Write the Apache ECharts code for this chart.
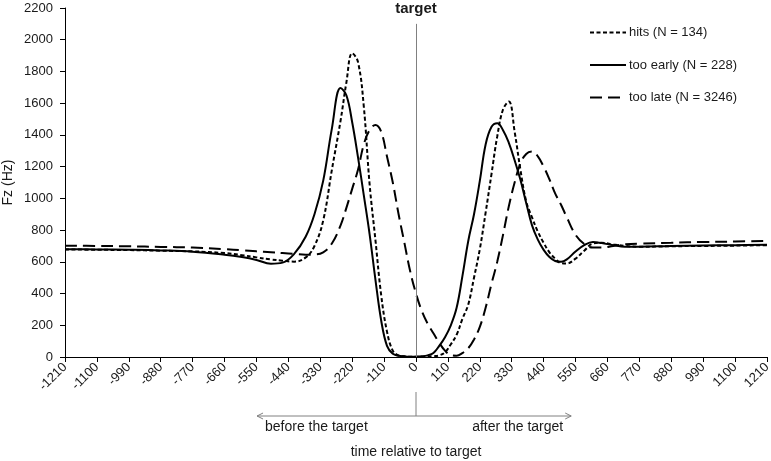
<!DOCTYPE html>
<html>
<head>
<meta charset="utf-8">
<script src="https://cdn.jsdelivr.net/npm/echarts@6/dist/echarts.min.js"></script>
<style>
  html, body { margin: 0; padding: 0; background: #fff; }
  #main { width: 771px; height: 461px; }
</style>
</head>
<body>
<div id="main"></div>
<script>
// time relative to target (ms)
const times = [-1210, -1100, -990, -880, -770, -660, -600, -550, -500, -460, -420, -380, -350, -320, -290, -260, -240, -220, -200, -180, -160, -140, -120, -100, -80, -60, -40, -20, 0, 20, 40, 60, 80, 100, 120, 140, 160, 180, 200, 220, 240, 260, 280, 300, 320, 340, 360, 380, 400, 420, 440, 460, 480, 500, 520, 550, 580, 610, 640, 680, 720, 770, 880, 990, 1100, 1210];

// Fz (Hz) per group
const hits = [678, 676, 674, 670, 666, 655, 642, 628, 615, 607, 601, 628, 700, 860, 1180, 1490, 1730, 1915, 1860, 1580, 1090, 740, 390, 160, 40, 10, 4, 2, 2, 2, 3, 5, 10, 30, 80, 140, 240, 330, 500, 680, 910, 1150, 1390, 1560, 1610, 1420, 1180, 980, 880, 790, 720, 660, 620, 592, 590, 620, 670, 715, 720, 710, 700, 695, 698, 700, 702, 705];
const tooEarly = [680, 678, 676, 672, 664, 645, 630, 612, 588, 595, 650, 760, 900, 1110, 1440, 1695, 1650, 1480, 1260, 1020, 775, 490, 230, 70, 20, 8, 4, 2, 2, 4, 10, 25, 70, 125, 200, 310, 510, 730, 900, 1110, 1340, 1450, 1474, 1430, 1350, 1240, 1117, 970, 830, 740, 675, 630, 605, 600, 615, 665, 705, 725, 718, 705, 695, 695, 700, 703, 705, 707];
const tooLate = [702, 700, 698, 694, 690, 680, 673, 666, 660, 655, 650, 645, 646, 660, 715, 830, 940, 1060, 1180, 1340, 1430, 1462, 1420, 1264, 1100, 900, 720, 540, 400, 290, 210, 150, 90, 40, 12, 8, 25, 55, 110, 190, 310, 460, 600, 770, 950, 1100, 1220, 1280, 1295, 1265, 1200, 1120, 1030, 960, 880, 770, 712, 690, 690, 700, 710, 715, 720, 725, 728, 732];

const seriesNames = ['hits (N = 134)', 'too early (N = 228)', 'too late (N = 3246)'];
const xTicks = { min: -1210, max: 1210, step: 110 };
const yTicks = { min: 0, max: 2200, step: 200 };

const font = "'Liberation Sans', Arial, sans-serif";
const textColor = '#1a1a1a';

function pairs(ys) {
  return times.map((t, i) => [t, ys[i]]);
}

const chart = echarts.init(document.getElementById('main'));

const option = {
  animation: false,
  backgroundColor: '#fff',
  textStyle: { fontFamily: font, color: textColor },
  grid: { left: 65, right: 4, top: 8, bottom: 104, containLabel: false, outerBoundsMode: 'none' },
  legend: {
    orient: 'vertical',
    left: 589,
    top: 26,
    padding: 0,
    itemWidth: 36,
    itemHeight: 14,
    itemGap: 19.5,
    itemStyle: { color: 'transparent', borderWidth: 0, opacity: 0 },
    textStyle: { fontFamily: font, fontSize: 13, color: textColor, padding: [0, 0, 0, -2] },
    data: seriesNames
  },
  xAxis: {
    type: 'value',
    min: xTicks.min,
    max: xTicks.max,
    interval: xTicks.step,
    name: 'time relative to target',
    nameLocation: 'middle',
    nameGap: 88,
    nameMoveOverlap: false,
    nameTextStyle: { fontFamily: font, fontSize: 14, color: textColor },
    axisLine: { onZero: false, lineStyle: { color: '#000', width: 1 } },
    axisTick: { length: 5, lineStyle: { color: '#000' } },
    axisLabel: { rotate: 45, fontSize: 13, color: textColor, margin: 8, formatter: v => String(v) },
    splitLine: { show: false }
  },
  yAxis: {
    type: 'value',
    min: yTicks.min,
    max: yTicks.max,
    interval: yTicks.step,
    name: 'Fz (Hz)',
    nameLocation: 'middle',
    nameGap: 50,
    nameMoveOverlap: false,
    nameTextStyle: { fontFamily: font, fontSize: 14, color: textColor },
    axisLine: { show: true, onZero: false, lineStyle: { color: '#000', width: 1 } },
    axisTick: { show: true, length: 5, lineStyle: { color: '#000' } },
    axisLabel: { fontSize: 13, color: textColor, margin: 12, formatter: v => String(v) },
    splitLine: { show: false }
  },
  series: [
    {
      name: seriesNames[0],
      type: 'line',
      data: pairs(hits),
      smooth: 0.4,
      showSymbol: false,
      symbol: 'none',
      lineStyle: { color: '#000', width: 2, type: [4, 2.5] },
      itemStyle: { color: '#000' },
      z: 3
    },
    {
      name: seriesNames[1],
      type: 'line',
      data: pairs(tooEarly),
      smooth: 0.4,
      showSymbol: false,
      symbol: 'none',
      lineStyle: { color: '#000', width: 2, type: 'solid' },
      itemStyle: { color: '#000' },
      z: 3
    },
    {
      name: seriesNames[2],
      type: 'line',
      data: pairs(tooLate),
      smooth: 0.4,
      showSymbol: false,
      symbol: 'none',
      lineStyle: { color: '#000', width: 2, type: [12, 6] },
      itemStyle: { color: '#000' },
      z: 3,
      markLine: {
        silent: true,
        symbol: ['none', 'none'],
        lineStyle: { color: '#808080', width: 1, type: 'solid' },
        label: {
          show: true,
          position: 'start',
          formatter: 'target',
          fontFamily: font,
          fontSize: 15,
          fontWeight: 'bold',
          color: textColor,
          distance: 8
        },
        data: [[{ coord: [0, 2100] }, { coord: [0, 0] }]]
      }
    }
  ]
};

chart.setOption(option);

// annotation below the axis: before / after the target
const arrowFrom = -548;
const arrowTo = 535;
const px0 = chart.convertToPixel({ xAxisIndex: 0 }, 0);
const pxL = chart.convertToPixel({ xAxisIndex: 0 }, arrowFrom);
const pxR = chart.convertToPixel({ xAxisIndex: 0 }, arrowTo);
const axisY = chart.convertToPixel({ yAxisIndex: 0 }, 0);
const arrowY = axisY + 59;
const grey = '#808080';

chart.setOption({
  graphic: [
    {
      type: 'line',
      shape: { x1: px0, y1: axisY + 35, x2: px0, y2: arrowY },
      style: { stroke: grey, lineWidth: 1 }
    },
    {
      type: 'line',
      shape: { x1: pxL, y1: arrowY, x2: pxR, y2: arrowY },
      style: { stroke: grey, lineWidth: 1 }
    },
    {
      type: 'polyline',
      shape: { points: [[pxL + 6, arrowY - 3], [pxL, arrowY], [pxL + 6, arrowY + 3]] },
      style: { stroke: grey, lineWidth: 1, fill: null }
    },
    {
      type: 'polyline',
      shape: { points: [[pxR - 6, arrowY - 3], [pxR, arrowY], [pxR - 6, arrowY + 3]] },
      style: { stroke: grey, lineWidth: 1, fill: null }
    },
    {
      type: 'text',
      x: pxL + 8,
      y: arrowY + 11,
      style: {
        text: 'before the target',
        font: '14px ' + font,
        fill: textColor,
        textAlign: 'left',
        textVerticalAlign: 'middle'
      }
    },
    {
      type: 'text',
      x: pxR - 8,
      y: arrowY + 11,
      style: {
        text: 'after the target',
        font: '14px ' + font,
        fill: textColor,
        textAlign: 'right',
        textVerticalAlign: 'middle'
      }
    }
  ]
});

window.addEventListener('resize', function () {
  chart.resize();
});
</script>
</body>
</html>
